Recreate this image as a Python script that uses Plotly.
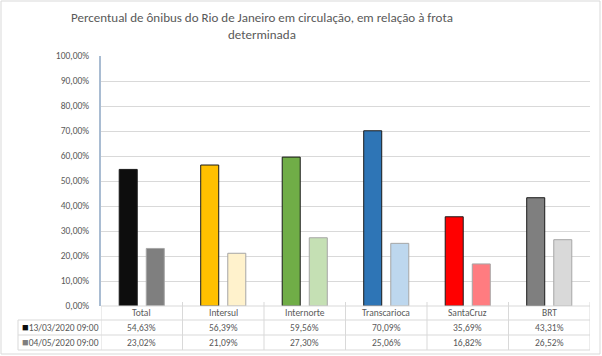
import plotly.graph_objects as go

categories = ["Total", "Intersul", "Internorte", "Transcarioca", "SantaCruz", "BRT"]
series_names = ["13/03/2020 09:00", "04/05/2020 09:00"]
values_mar = [54.63, 56.39, 59.56, 70.09, 35.69, 43.31]
values_may = [23.02, 21.09, 27.30, 25.06, 16.82, 26.52]
colors_mar = ["#0d0d0d", "#ffc000", "#70ad47", "#2e75b6", "#ff0000", "#7f7f7f"]
colors_may = ["#7f7f7f", "#fff2cc", "#c5e0b4", "#bdd7ee", "#ff7c80", "#d9d9d9"]
legend_colors = ["#0d0d0d", "#7f7f7f"]
y_ticks = [0, 10, 20, 30, 40, 50, 60, 70, 80, 90, 100]
title_text = "Percentual de ônibus do Rio de Janeiro em circulação, em relação à frota<br>determinada"

FONT = "Carlito, Calibri, 'Liberation Sans Narrow', 'Liberation Sans', sans-serif"
TXT = "#595959"
GRID = "#d9d9d9"

W, H = 602, 356
ML, MR, MT, MB = 101, 12, 56, 50
PW, PH = W - ML - MR, H - MT - MB

def px(x):
    return (x - ML) / PW

def py(y):
    return (H - MB - y) / PH

def fmt(v):
    return f"{v:.2f}".replace(".", ",") + "%"

fig = go.Figure()
x_idx = list(range(len(categories)))
fig.add_trace(go.Bar(x=x_idx, y=values_mar, name=series_names[0],
                     marker=dict(color=colors_mar, line=dict(color="#1a1a1a", width=1))))
fig.add_trace(go.Bar(x=x_idx, y=values_may, name=series_names[1],
                     marker=dict(color=colors_may, line=dict(color="#a6a6a6", width=1))))

shapes = []
ann = []
n = len(categories)
row_y = [313, 327.5, 342.5]
row_lines = [306, 320, 335, 350]
for i, yl in enumerate(row_lines):
    shapes.append(dict(type="line", xref="paper", yref="paper",
                       x0=px(101) if i == 0 else px(18), x1=1, y0=py(yl), y1=py(yl),
                       line=dict(color=GRID, width=1)))
for k in range(n + 1):
    shapes.append(dict(type="line", xref="x", yref="paper", x0=k - 0.5, x1=k - 0.5,
                       y0=py(302 if k > 0 else 306), y1=py(350), line=dict(color=GRID, width=1)))
shapes.append(dict(type="line", xref="paper", yref="paper", x0=px(18), x1=px(18),
                   y0=py(320), y1=py(350), line=dict(color=GRID, width=1)))
shapes.append(dict(type="rect", xref="paper", yref="paper", x0=px(1), x1=px(600),
                   y0=py(1), y1=py(354), line=dict(color=GRID, width=1)))

tf = dict(size=9.5, color=TXT, family=FONT)
for i, c in enumerate(categories):
    ann.append(dict(x=i, y=py(row_y[0]), xref="x", yref="paper", text=c, showarrow=False,
                    xanchor="center", yanchor="middle", font=tf))
    ann.append(dict(x=i, y=py(row_y[1]), xref="x", yref="paper", text=fmt(values_mar[i]),
                    xanchor="center", yanchor="middle", showarrow=False, font=tf))
    ann.append(dict(x=i, y=py(row_y[2]), xref="x", yref="paper", text=fmt(values_may[i]),
                    xanchor="center", yanchor="middle", showarrow=False, font=tf))
for j, s in enumerate(series_names):
    ann.append(dict(x=px(19.5), y=py(row_y[j + 1]), xref="paper", yref="paper",
                    xanchor="left", yanchor="middle", showarrow=False,
                    text=f"<span style='color:{legend_colors[j]};font-size:11px'>■</span>{s}",
                    font=tf))
ann.append(dict(x=px(262), y=py(26), xref="paper", yref="paper", xanchor="center",
                yanchor="middle", showarrow=False, text=title_text,
                font=dict(size=13, color=TXT, family=FONT)))

fig.update_layout(
    width=W, height=H,
    margin=dict(l=ML, r=MR, t=MT, b=MB, autoexpand=False),
    paper_bgcolor="white", plot_bgcolor="white",
    barmode="group", bargap=0.336, bargroupgap=0.334,
    showlegend=False,
    font=dict(family=FONT, color=TXT),
    xaxis=dict(range=[-0.5, n - 0.5], showticklabels=False, showgrid=False,
               zeroline=False, showline=False, ticks=""),
    yaxis=dict(range=[0, 100], tickvals=y_ticks, ticktext=[fmt(t) for t in y_ticks],
               showgrid=True, gridcolor=GRID, gridwidth=1, zeroline=False,
               showline=True, linecolor="#a9bcd2", linewidth=2,
               ticks="", ticklabelstandoff=8, automargin=False,
               tickfont=dict(size=9.5, color=TXT, family=FONT)),
    shapes=shapes, annotations=ann,
)
fig.write_html("out.html", config={"displayModeBar": False},
               post_script="document.body.style.margin='0';")
